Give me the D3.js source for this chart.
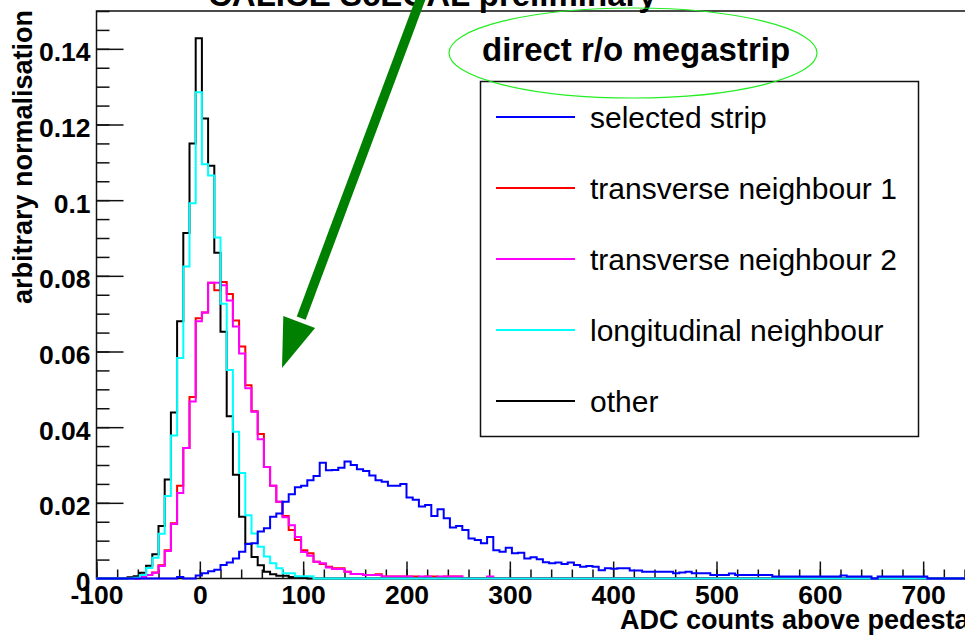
<!DOCTYPE html>
<html>
<head>
<meta charset="utf-8">
<script src="https://cdn.jsdelivr.net/npm/d3@7"></script>
<style>
  html, body { margin: 0; padding: 0; background: #fff; overflow: hidden; }
  svg { display: block; }
  text { font-family: "Liberation Sans", Arial, Helvetica, sans-serif; }
</style>
</head>
<body>
<svg id="chart" width="965" height="638"></svg>
<script>
// ---- binning: 150 bins of 6 ADC counts, -100 .. 800 ----
const binLow = -100;
const binWidth = 6;
const nBins = 150;

// ---- bin contents (first listed bin index, then consecutive bins) ----
const selectedStripFirstBin = 13;
const selectedStrip = [
  0.0004, 0, 0, 0.0008, 0.0014, 0.0019, 0.0023, 0.0036, 0.0042, 0.0053,
  0.0071, 0.0091, 0.0093, 0.0124, 0.0133, 0.0163, 0.0172, 0.0203, 0.0223, 0.0241,
  0.0245, 0.0260, 0.0271, 0.0306, 0.0286, 0.0287, 0.0293, 0.0309, 0.0300, 0.0289,
  0.0284, 0.0272, 0.0260, 0.0256, 0.0245, 0.0245, 0.0250, 0.0214, 0.0208, 0.0190,
  0.0194, 0.0165, 0.0183, 0.0159, 0.0135, 0.0139, 0.0128, 0.0106, 0.0102, 0.0093,
  0.0110, 0.0075, 0.0071, 0.0081, 0.0067, 0.0068, 0.0053, 0.0056, 0.0051, 0.0043,
  0.0040, 0.0042, 0.0038, 0.0042, 0.0036, 0.0031, 0.0033, 0.0031, 0.0022, 0.0027,
  0.0026, 0.0027, 0.0027, 0.0021, 0.0021, 0.0018, 0.0018, 0.0018, 0.0018, 0.0018,
  0.0014, 0.0016, 0.0018, 0.0014, 0.0014, 0.0014, 0.0009, 0.0009, 0.0009, 0.0013,
  0.0009, 0.0009, 0.0009, 0.0009, 0.0009, 0.0009, 0.0005, 0.0005, 0.0005, 0.0005,
  0.0005, 0.0005, 0.0005, 0.0005, 0.0005, 0.0005, 0.0005, 0.0008, 0.0005, 0.0005,
  0.0005, 0.0005, 0, 0.0005, 0.0005, 0.0005, 0.0005, 0.0005, 0.0005, 0.0005,
  0.0005
];

const transverse1FirstBin = 7;
const transverse1 = [
  0.0004, 0.0009, 0.0016, 0.0035, 0.0075, 0.0146, 0.0245, 0.0345, 0.0480, 0.0688,
  0.0703, 0.0782, 0.0762, 0.0784, 0.0752, 0.0682, 0.0613, 0.0511, 0.0442, 0.0382,
  0.0295, 0.0245, 0.0203, 0.0165, 0.0128, 0.0102, 0.0075, 0.0067, 0.0044, 0.0038,
  0.0031, 0.0027, 0.0027, 0.0018, 0.0012, 0.0012, 0.0009, 0.0009, 0.0011, 0.0005,
  0.0005, 0.0005, 0.0005, 0.0005, 0.0005, 0, 0.0005, 0.0005, 0, 0.0005,
  0.0005, 0.0005
];

const transverse2FirstBin = 7;
const transverse2 = [
  0.0004, 0.0009, 0.0015, 0.0033, 0.0073, 0.0144, 0.0226, 0.0345, 0.0468, 0.0680,
  0.0703, 0.0782, 0.0782, 0.0775, 0.0735, 0.0666, 0.0595, 0.0503, 0.0441, 0.0368,
  0.0295, 0.0245, 0.0203, 0.0162, 0.0141, 0.0110, 0.0070, 0.0060, 0.0044, 0.0040,
  0.0029, 0.0025, 0.0025, 0.0018, 0.0012, 0.0012, 0.0009, 0.0009, 0.0009, 0.0005,
  0.0005, 0.0005, 0.0005, 0.0005, 0, 0.0005, 0.0005, 0, 0.0005, 0.0005,
  0.0005, 0.0005, 0, 0, 0, 0, 0.0005
];

const longitudinalFirstBin = 6;
const longitudinal = [
  0.0002, 0.0009, 0.0028, 0.0055, 0.0118, 0.0218, 0.0378, 0.0583, 0.0825, 0.0992,
  0.1285, 0.1095, 0.1065, 0.0901, 0.0726, 0.0551, 0.0388, 0.0279, 0.0167, 0.0119,
  0.0084, 0.0058, 0.0040, 0.0027, 0.0014, 0.0014, 0.0006, 0.0006, 0.0006
];

const otherFirstBin = 5;
const other = [
  0.0003, 0.0006, 0.0015, 0.0034, 0.0064, 0.0139, 0.0262, 0.0439, 0.0680, 0.0913,
  0.1150, 0.1428, 0.1216, 0.1091, 0.0861, 0.0652, 0.0429, 0.0274, 0.0163, 0.0092,
  0.0057, 0.0035, 0.0018, 0.0011, 0.0007, 0.0007, 0.0004, 0.0004, 0.0002
];

// ---- axes ----
const xTickValues = [-100, 0, 100, 200, 300, 400, 500, 600, 700, 800];
const xTickLabels = ["-100", "0", "100", "200", "300", "400", "500", "600", "700", "800"];
const yTickValues = [0, 0.02, 0.04, 0.06, 0.08, 0.1, 0.12, 0.14];
const yTickLabels = ["0", "0.02", "0.04", "0.06", "0.08", "0.1", "0.12", "0.14"];

const legendLabels = ["selected strip", "transverse neighbour 1", "transverse neighbour 2",
                      "longitudinal neighbour", "other"];
const legendColors = ["#0000ff", "#ff0000", "#ff00ff", "#00ffff", "#000000"];

const svg = d3.select("#chart");
svg.append("rect").attr("width", 965).attr("height", 638).attr("fill", "#fff");

const frame = { left: 96.5, right: 1026.5, top: 11, bottom: 578.5 };
const x = d3.scaleLinear().domain([-100, 800]).range([frame.left, frame.right]);
const y = d3.scaleLinear().domain([0, 0.15]).range([frame.bottom, frame.top]);

// frame
svg.append("rect")
  .attr("x", frame.left).attr("y", frame.top)
  .attr("width", frame.right - frame.left).attr("height", frame.bottom - frame.top)
  .attr("fill", "none").attr("stroke", "#111").attr("stroke-width", 1.5);

// x axis: minor ticks every 20, major every 100, ticks pointing up into the frame
const xMinor = d3.axisBottom(x).tickValues(d3.range(-100, 801, 20)).tickSize(-9).tickFormat("");
const xMajor = d3.axisBottom(x).tickValues(xTickValues).tickSize(-17).tickPadding(7)
  .tickFormat((d, i) => xTickLabels[i]);
[xMinor, xMajor].forEach(ax => {
  const g = svg.append("g").attr("transform", `translate(0,${frame.bottom})`).call(ax);
  g.select(".domain").remove();
  g.selectAll("line").attr("stroke", "#111").attr("stroke-width", 1.5);
  g.selectAll("text").attr("fill", "#000").attr("font-size", 26.5).attr("font-weight", "bold")
    .style("font-family", '"Liberation Sans", Arial, sans-serif');
});

// y axis: minor ticks every 0.005, major every 0.02, ticks pointing right
const yMinor = d3.axisLeft(y).tickValues(d3.range(0, 0.1501, 0.005)).tickSize(-13).tickFormat("");
const yMajor = d3.axisLeft(y).tickValues(yTickValues).tickSize(-27).tickPadding(6)
  .tickFormat((d, i) => yTickLabels[i]);
[yMinor, yMajor].forEach(ax => {
  const g = svg.append("g").attr("transform", `translate(${frame.left},0)`).call(ax);
  g.select(".domain").remove();
  g.selectAll("line").attr("stroke", "#111").attr("stroke-width", 1.5);
  g.selectAll("text").attr("fill", "#000").attr("font-size", 26.5).attr("font-weight", "bold")
    .attr("dy", "0.45em")
    .style("font-family", '"Liberation Sans", Arial, sans-serif');
});

// ---- histograms ----
function histogramPoints(firstBin, values) {
  const content = new Array(nBins).fill(0);
  values.forEach((v, i) => { content[firstBin + i] = v; });
  const pts = [[binLow, 0]];
  content.forEach((v, k) => {
    const lo = binLow + k * binWidth;
    pts.push([lo, v], [lo + binWidth, v]);
  });
  pts.push([binLow + nBins * binWidth, 0]);
  return pts;
}
const line = d3.line().x(d => x(d[0])).y(d => y(d[1]));

const drawOrder = [
  { first: transverse1FirstBin, values: transverse1, color: "#ff0000" },
  { first: transverse2FirstBin, values: transverse2, color: "#ff00ff" },
  { first: otherFirstBin, values: other, color: "#000000" },
  { first: longitudinalFirstBin, values: longitudinal, color: "#00ffff" },
  { first: selectedStripFirstBin, values: selectedStrip, color: "#0000ff" }
];
drawOrder.forEach(h => {
  svg.append("path")
    .attr("d", line(histogramPoints(h.first, h.values)))
    .attr("fill", "none").attr("stroke", h.color).attr("stroke-width", 2)
    .attr("stroke-linejoin", "miter");
});

// ---- axis titles ----
svg.append("text")
  .attr("transform", "translate(32,10) rotate(-90)")
  .attr("text-anchor", "end")
  .attr("font-size", 27).attr("font-weight", "bold")
  .text("arbitrary normalisation");

svg.append("text")
  .attr("x", 620).attr("y", 629)
  .attr("font-size", 27).attr("font-weight", "bold")
  .text("ADC counts above pedestal");

// ---- title ----
svg.append("text")
  .attr("x", 208).attr("y", 6)
  .attr("font-size", 33).attr("font-weight", "bold")
  .text("CALICE ScECAL preliminary");

// ---- legend ----
const legend = svg.append("g");
legend.append("rect")
  .attr("x", 480.5).attr("y", 81.5).attr("width", 438).attr("height", 355)
  .attr("fill", "#fff").attr("stroke", "#111").attr("stroke-width", 1.5);
legendLabels.forEach((lab, i) => {
  const ly = 117 + i * 71;
  legend.append("line")
    .attr("x1", 496).attr("x2", 575).attr("y1", ly).attr("y2", ly)
    .attr("stroke", legendColors[i]).attr("stroke-width", 2);
  legend.append("text")
    .attr("x", 590).attr("y", ly + 10.5)
    .attr("font-size", 30)
    .text(lab);
});

// ---- annotation: read-out label, ellipse and arrow ----
svg.append("text")
  .attr("x", 482).attr("y", 61)
  .attr("font-size", 33).attr("font-weight", "bold")
  .text("direct r/o megastrip");

svg.append("ellipse")
  .attr("cx", 633).attr("cy", 53).attr("rx", 184).attr("ry", 45)
  .attr("fill", "none").attr("stroke", "#22ee22").attr("stroke-width", 1.2);

const arrowTip = [282, 368];
const arrowBase = [299.2, 322.1];
const arrowTail = [424, -10];
svg.append("line")
  .attr("x1", arrowTail[0]).attr("y1", arrowTail[1])
  .attr("x2", arrowBase[0] + 2).attr("y2", arrowBase[1] - 4)
  .attr("stroke", "#008000").attr("stroke-width", 9.5);
svg.append("polygon")
  .attr("points", [arrowTip, [315.1, 328.1], [283.3, 316.1]].map(p => p.join(",")).join(" "))
  .attr("fill", "#008000");
</script>
</body>
</html>
